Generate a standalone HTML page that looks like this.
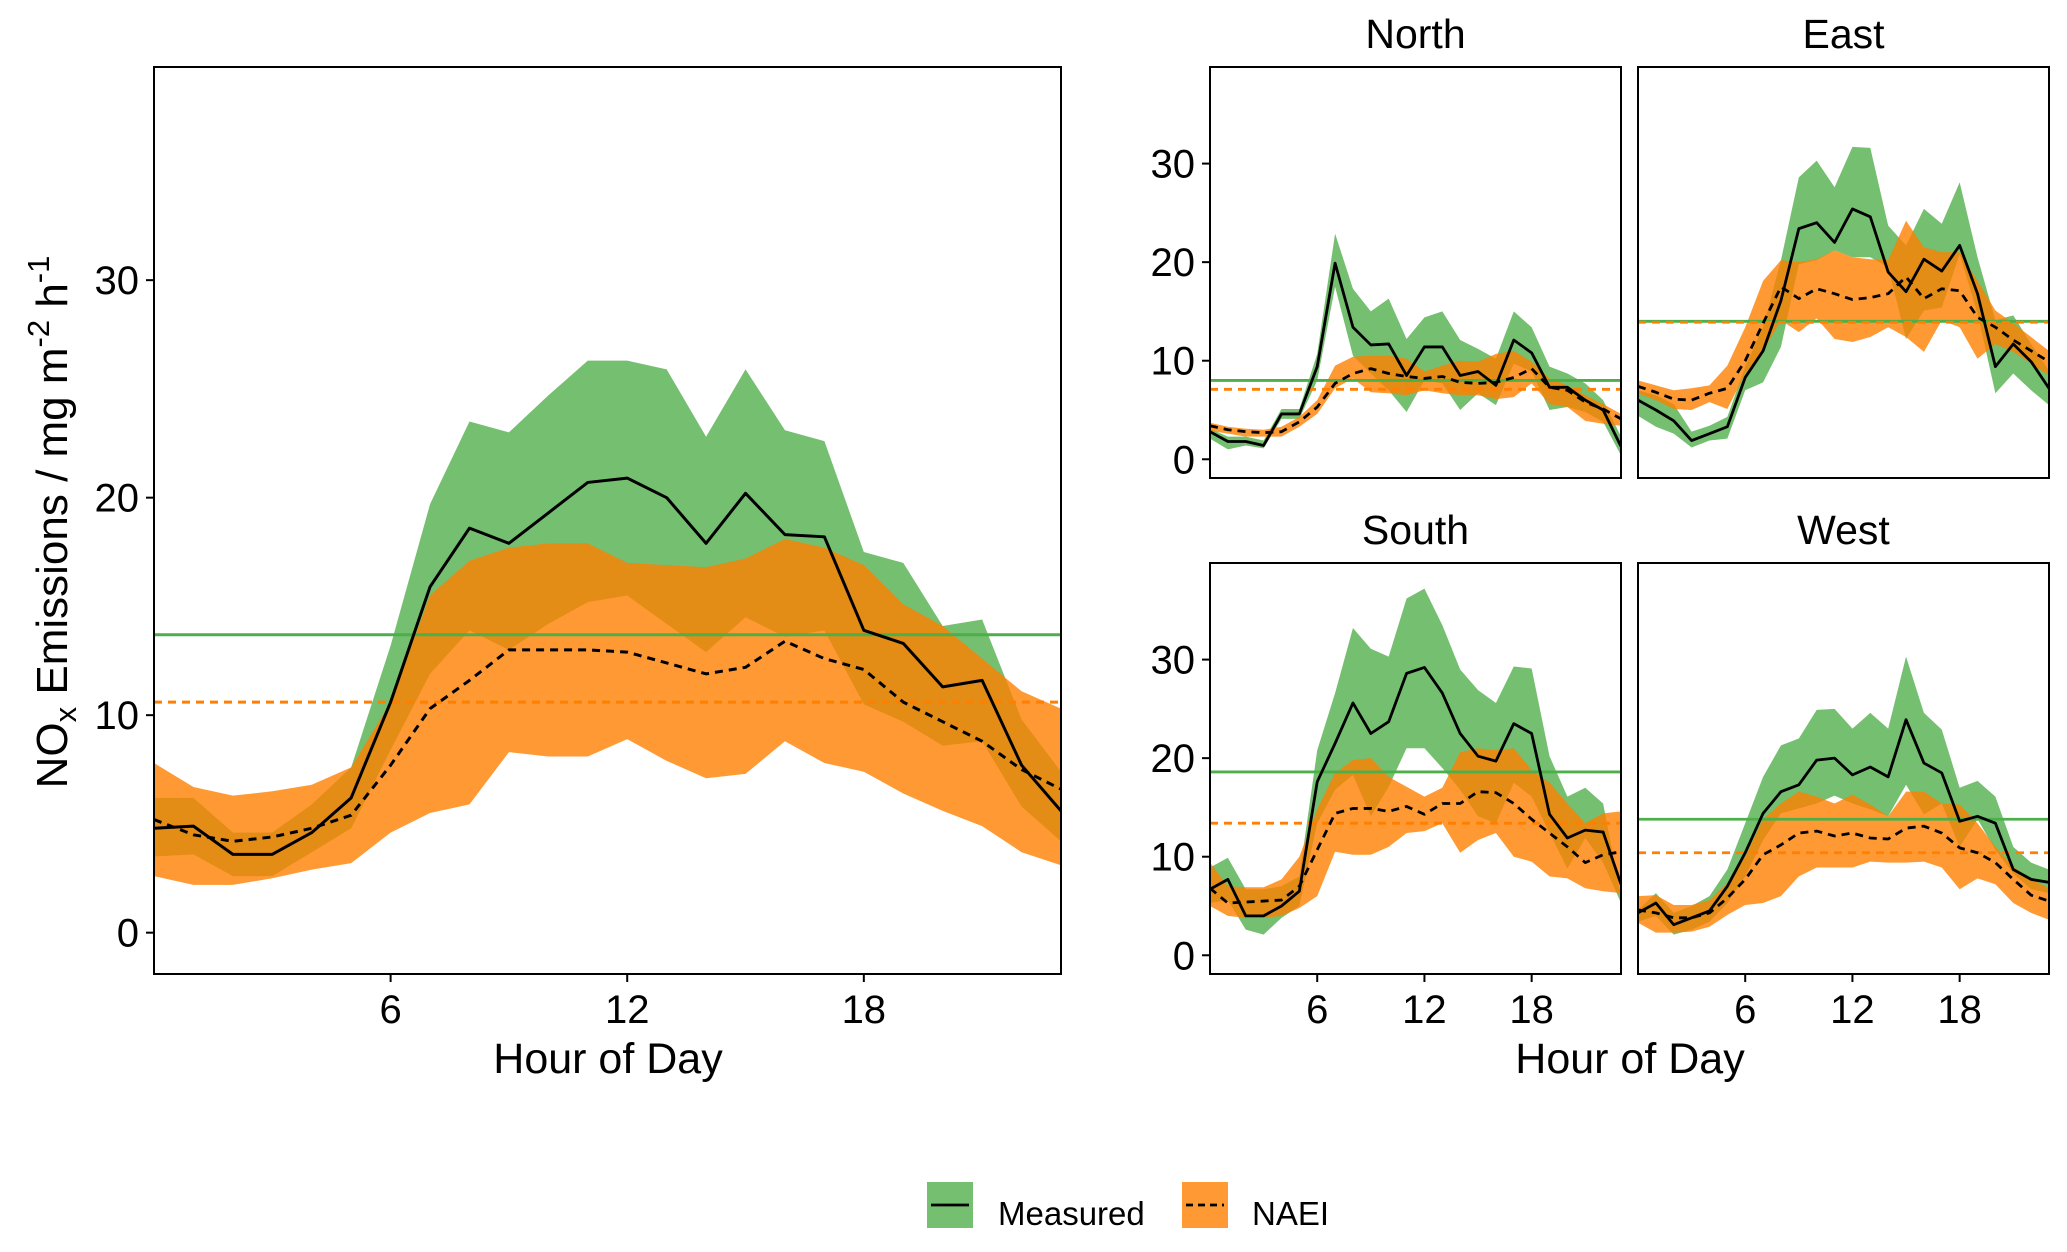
<!DOCTYPE html>
<html><head><meta charset="utf-8"><style>
html,body{margin:0;padding:0;background:#fff;}
svg{display:block;font-family:"Liberation Sans",Arial,sans-serif;}
</style></head><body>
<svg id="chart" width="2067" height="1252" viewBox="0 0 2067 1252" xmlns="http://www.w3.org/2000/svg"></svg>
<script>
const hours=[0,1,2,3,4,5,6,7,8,9,10,11,12,13,14,15,16,17,18,19,20,21,22,23];
const xTicks=[6,12,18];
const yTicks=[0,10,20,30];
// ALL
const allMeas=[4.8,4.9,3.6,3.6,4.6,6.2,10.6,15.9,18.6,17.9,19.3,20.7,20.9,20.0,17.9,20.2,18.3,18.2,13.9,13.3,11.3,11.6,7.7,5.6];
const allMeasHi=[6.2,6.2,4.6,4.6,5.9,7.6,13.2,19.7,23.5,23.0,24.7,26.3,26.3,25.9,22.8,25.9,23.1,22.6,17.5,17.0,14.1,14.4,9.8,7.4];
const allMeasLo=[3.5,3.6,2.6,2.6,3.7,4.8,8.4,11.9,13.9,13.0,14.2,15.2,15.5,14.2,12.9,14.5,13.6,13.9,10.5,9.7,8.6,8.8,5.8,4.2];
const allNaei=[5.2,4.5,4.2,4.4,4.8,5.4,7.7,10.3,11.6,13.0,13.0,13.0,12.9,12.4,11.9,12.2,13.4,12.6,12.1,10.6,9.7,8.8,7.5,6.6];
const allNaeiHi=[7.8,6.7,6.3,6.5,6.8,7.6,10.6,15.5,17.1,17.7,17.9,17.9,17.0,16.9,16.8,17.2,18.1,17.7,16.9,15.1,14.1,12.6,11.1,10.3];
const allNaeiLo=[2.6,2.2,2.2,2.5,2.9,3.2,4.6,5.5,5.9,8.3,8.1,8.1,8.9,7.9,7.1,7.3,8.8,7.8,7.4,6.4,5.6,4.9,3.7,3.1];
const allMeans=[13.7,10.6];
// NORTH
const nMeas=[2.8,1.8,1.8,1.4,4.6,4.6,9.4,19.9,13.4,11.6,11.7,8.5,11.4,11.4,8.5,8.9,7.5,12.1,10.8,7.3,7.3,6.0,5.0,1.3];
const nMeasHi=[3.1,2.3,2.3,1.9,5.1,5.1,10.7,22.9,17.3,15.0,16.3,12.2,14.4,15.0,12.1,11.2,10.2,15.0,13.4,9.4,8.7,7.7,6.0,2.3];
const nMeasLo=[2.1,1.0,1.4,1.1,4.1,4.1,8.0,17.5,10.5,8.7,7.0,4.8,8.0,7.7,5.0,6.7,5.5,9.7,8.9,5.0,5.3,4.8,3.8,0.4];
const nNaei=[3.4,3.0,2.8,2.7,2.8,3.8,5.3,7.7,8.7,9.2,8.7,8.4,8.2,8.4,7.8,7.7,7.8,8.3,9.2,7.3,7.0,5.8,5.1,4.1];
const nNaeiHi=[3.7,3.3,3.1,3.0,3.3,4.3,6.0,9.5,10.4,10.5,10.5,10.2,8.9,9.5,10.0,9.9,10.7,11.0,9.9,8.2,7.5,6.5,5.6,4.6];
const nNaeiLo=[2.9,2.6,2.3,2.3,2.3,3.3,4.6,7.2,8.2,6.8,6.7,6.5,7.0,6.7,6.5,6.5,6.1,6.3,7.7,5.6,5.3,3.9,3.6,3.4];
const nMeans=[8.0,7.1];
// EAST
const eMeas=[6.0,5.0,3.9,1.9,2.6,3.3,8.3,11.0,16.1,23.4,24.0,22.0,25.4,24.6,19.0,17.0,20.3,19.1,21.7,16.8,9.4,11.7,9.9,7.2];
const eMeasHi=[7.0,6.5,5.6,2.8,3.4,4.3,9.4,13.4,20.2,28.6,30.3,27.6,31.7,31.6,23.7,21.7,25.4,23.9,28.1,20.5,14.1,14.6,11.7,9.0];
const eMeasLo=[4.4,3.3,2.6,1.2,1.9,2.1,7.0,7.8,11.4,19.8,20.2,21.2,20.5,20.5,19.5,12.2,15.1,15.4,20.8,14.8,6.7,8.7,7.0,5.5];
const eNaei=[7.4,6.8,6.1,6.0,6.7,7.2,10.0,13.8,17.5,16.3,17.3,16.8,16.2,16.4,16.8,18.5,16.3,17.3,17.1,14.4,13.4,12.1,11.0,9.9];
const eNaeiHi=[8.0,7.5,7.0,7.2,7.5,9.5,13.4,18.1,20.2,20.0,20.3,21.2,20.5,20.3,20.2,24.2,21.5,21.0,21.0,18.1,15.1,13.8,12.4,11.0];
const eNaeiLo=[6.7,6.0,5.1,5.0,5.8,5.1,8.7,11.0,14.1,12.9,14.3,12.2,11.9,12.4,13.4,12.4,10.9,14.1,13.4,10.2,11.7,10.9,9.7,8.5];
const eMeans=[14.0,13.9];
// SOUTH
const sMeas=[6.7,7.7,4.0,4.0,5.0,6.5,17.6,21.5,25.6,22.5,23.7,28.6,29.2,26.6,22.5,20.2,19.7,23.5,22.5,14.3,11.9,12.7,12.5,7.2];
const sMeasHi=[8.9,9.9,6.7,6.7,7.0,8.0,20.8,26.6,33.2,31.1,30.3,36.2,37.2,33.5,29.0,26.9,25.6,29.3,29.1,20.2,16.1,17.0,15.4,6.0];
const sMeasLo=[5.3,5.6,2.6,2.1,3.8,5.0,13.4,16.8,18.3,14.1,17.1,21.0,21.0,19.0,16.8,14.1,13.4,17.5,16.1,12.4,8.8,11.9,9.4,5.3];
const sNaei=[6.8,5.3,5.4,5.5,5.6,7.0,10.7,14.4,14.9,14.9,14.6,15.1,14.3,15.4,15.4,16.6,16.5,15.4,13.8,12.4,11.0,9.4,10.2,10.5];
const sNaeiHi=[9.4,7.0,6.9,6.9,7.7,10.0,14.8,18.5,19.8,20.0,18.1,17.1,16.1,17.0,20.6,21.0,20.8,21.0,18.8,17.5,15.4,13.4,14.4,14.6];
const sNaeiLo=[5.0,4.0,3.8,3.8,4.0,4.8,6.0,10.5,10.2,10.2,11.0,12.4,12.6,13.4,10.4,11.7,12.4,10.0,9.5,8.0,7.8,6.8,6.5,6.3];
const sMeans=[18.6,13.4];
// WEST
const wMeas=[4.3,5.3,3.1,3.8,4.5,7.0,10.4,14.4,16.6,17.3,19.8,20.0,18.3,19.1,18.1,23.9,19.5,18.5,13.6,14.1,13.4,8.7,7.7,7.4];
const wMeasHi=[4.6,6.3,4.3,5.0,6.0,8.7,13.4,18.1,21.3,22.0,24.9,25.0,23.0,24.6,23.0,30.3,24.6,22.9,17.0,17.7,16.1,11.0,9.4,8.7];
const wMeasLo=[3.4,4.0,2.1,2.6,3.4,5.3,8.0,11.7,14.4,14.9,15.4,16.2,15.4,14.8,14.1,17.3,14.3,15.4,11.0,13.8,10.7,8.3,6.7,6.3];
const wNaei=[4.6,4.3,3.8,3.8,4.3,5.8,7.7,10.2,11.2,12.4,12.6,12.1,12.4,11.9,11.8,12.9,13.1,12.4,10.9,10.4,9.4,7.7,6.1,5.5];
const wNaeiHi=[6.0,6.1,5.1,5.1,5.6,7.3,10.0,13.8,15.4,16.6,16.1,15.4,16.3,15.3,14.1,16.6,16.6,15.4,15.3,13.4,11.0,9.0,7.7,6.8];
const wNaeiLo=[3.3,2.3,2.3,2.4,2.9,4.1,5.1,5.3,6.0,8.0,8.9,8.9,8.9,9.5,9.4,9.4,9.5,8.9,6.7,7.8,7.2,5.3,4.3,3.6];
const wMeans=[13.8,10.4];

const NS="http://www.w3.org/2000/svg";
const svg=document.getElementById('chart');
function mk(tag,attrs,parent){const e=document.createElementNS(NS,tag);for(const k in attrs)e.setAttribute(k,attrs[k]);(parent||svg).appendChild(e);return e;}
const Y_MIN=-1.9,Y_MAX=39.8,X_MIN=0,X_MAX=23;

function drawPanel(p){
  const g=mk('g',{});
  
  
  const xs=v=>p.x0+(v-X_MIN)/(X_MAX-X_MIN)*(p.x1-p.x0);
  const ys=v=>p.y1-(v-Y_MIN)/(Y_MAX-Y_MIN)*(p.y1-p.y0);
  const cid='clip-'+p.name;
  const cp=mk('clipPath',{id:cid},g);mk('rect',{x:p.x0,y:p.y0,width:p.x1-p.x0,height:p.y1-p.y0},cp);
  const inner=mk('g',{'clip-path':'url(#'+cid+')'},g);
  function band(lo,hi,fill,op,name){
    let d='M'+hours.map((h,i)=>xs(h)+','+ys(hi[i])).join('L');
    for(let i=hours.length-1;i>=0;i--)d+='L'+xs(hours[i])+','+ys(lo[i]);
    const e=mk('path',{d:d+'Z',fill:fill,'fill-opacity':op},inner);
    
    
  }
  function line(vals,dash,name){
    const e=mk('polyline',{points:hours.map((h,i)=>xs(h)+','+ys(vals[i])).join(' '),fill:'none',stroke:'#000','stroke-width':p.lw,'stroke-dasharray':dash||'none','stroke-linejoin':'round'},inner);
    
    
  }
  band(p.mLo,p.mHi,'#33A02C',0.68,'measured-range-band');
  band(p.nLo,p.nHi,'#FF7F00',0.8,'naei-range-band');
  const gm=mk('line',{x1:p.x0,x2:p.x1,y1:ys(p.means[0]),y2:ys(p.means[0]),stroke:'#4DAF4A','stroke-width':p.lw},inner);
  
  
  const om=mk('line',{x1:p.x0,x2:p.x1,y1:ys(p.means[1]),y2:ys(p.means[1]),stroke:'#FF7F00','stroke-width':p.lw,'stroke-dasharray':'8,6'},inner);
  
  
  line(p.n,'8,6','naei-line');
  line(p.m,null,'measured-line');
  const fr=mk('rect',{x:p.x0,y:p.y0,width:p.x1-p.x0,height:p.y1-p.y0,fill:'none',stroke:'#000','stroke-width':2},g);
  
  
  if(p.yAxis){yTicks.forEach(t=>{
    mk('line',{x1:p.x0-8,x2:p.x0,y1:ys(t),y2:ys(t),stroke:'#000','stroke-width':2},g);
    const tx=mk('text',{x:p.x0-15,y:ys(t)+14,'text-anchor':'end','font-size':40,fill:'#000'},g);
    tx.textContent=t;
    
    
  });}
  if(p.xAxis){xTicks.forEach(t=>{
    mk('line',{x1:xs(t),x2:xs(t),y1:p.y1,y2:p.y1+8,stroke:'#000','stroke-width':2},g);
    const tx=mk('text',{x:xs(t),y:p.y1+49,'text-anchor':'middle','font-size':40,fill:'#000'},g);
    tx.textContent=t;
    
    
  });}
  if(p.title){const tt=mk('text',{x:(p.x0+p.x1)/2,y:p.y0-19,'text-anchor':'middle','font-size':41,fill:'#000'},g);
    tt.textContent=p.title;
    
    }
}
drawPanel({name:'all',x0:154,x1:1061,y0:67,y1:974,lw:3,yAxis:true,xAxis:true,m:allMeas,mHi:allMeasHi,mLo:allMeasLo,n:allNaei,nHi:allNaeiHi,nLo:allNaeiLo,means:allMeans});
drawPanel({name:'north',title:'North',x0:1210,x1:1621,y0:67,y1:478,lw:2.8,yAxis:true,xAxis:false,m:nMeas,mHi:nMeasHi,mLo:nMeasLo,n:nNaei,nHi:nNaeiHi,nLo:nNaeiLo,means:nMeans});
drawPanel({name:'east',title:'East',x0:1638,x1:2049,y0:67,y1:478,lw:2.8,yAxis:false,xAxis:false,m:eMeas,mHi:eMeasHi,mLo:eMeasLo,n:eNaei,nHi:eNaeiHi,nLo:eNaeiLo,means:eMeans});
drawPanel({name:'south',title:'South',x0:1210,x1:1621,y0:563,y1:974,lw:2.8,yAxis:true,xAxis:true,m:sMeas,mHi:sMeasHi,mLo:sMeasLo,n:sNaei,nHi:sNaeiHi,nLo:sNaeiLo,means:sMeans});
drawPanel({name:'west',title:'West',x0:1638,x1:2049,y0:563,y1:974,lw:2.8,yAxis:false,xAxis:true,m:wMeas,mHi:wMeasHi,mLo:wMeasLo,n:wNaei,nHi:wNaeiHi,nLo:wNaeiLo,means:wMeans});
</script>
<svg style="position:absolute;left:0;top:0" width="2067" height="1252">
  <text x="608" y="1073" text-anchor="middle" font-size="43" font-family="Liberation Sans, sans-serif">Hour of Day</text>
  <text x="1630" y="1073" text-anchor="middle" font-size="43" font-family="Liberation Sans, sans-serif">Hour of Day</text>
  <text transform="translate(67,522) rotate(-90)" text-anchor="middle" font-size="44" font-family="Liberation Sans, sans-serif">NO<tspan font-size="31" dy="9">x</tspan><tspan dy="-9"> Emissions / mg m</tspan><tspan font-size="31" dy="-18">-2</tspan><tspan dy="18"> h</tspan><tspan font-size="31" dy="-18">-1</tspan></text>
  <g font-family="Liberation Sans, sans-serif">
    <g>
      <rect x="927" y="1182" width="46" height="46" fill="#33A02C" fill-opacity="0.68"/>
      <line x1="931" x2="969" y1="1205" y2="1205" stroke="#000" stroke-width="2.8"/>
      <text x="998" y="1225" font-size="33">Measured</text>
    </g>
    <g>
      <rect x="1182" y="1182" width="46" height="46" fill="#FF7F00" fill-opacity="0.8"/>
      <line x1="1186" x2="1224" y1="1205" y2="1205" stroke="#000" stroke-width="2.8" stroke-dasharray="7,5"/>
      <text x="1252" y="1225" font-size="33">NAEI</text>
    </g>
  </g>
</svg>
</body></html>
